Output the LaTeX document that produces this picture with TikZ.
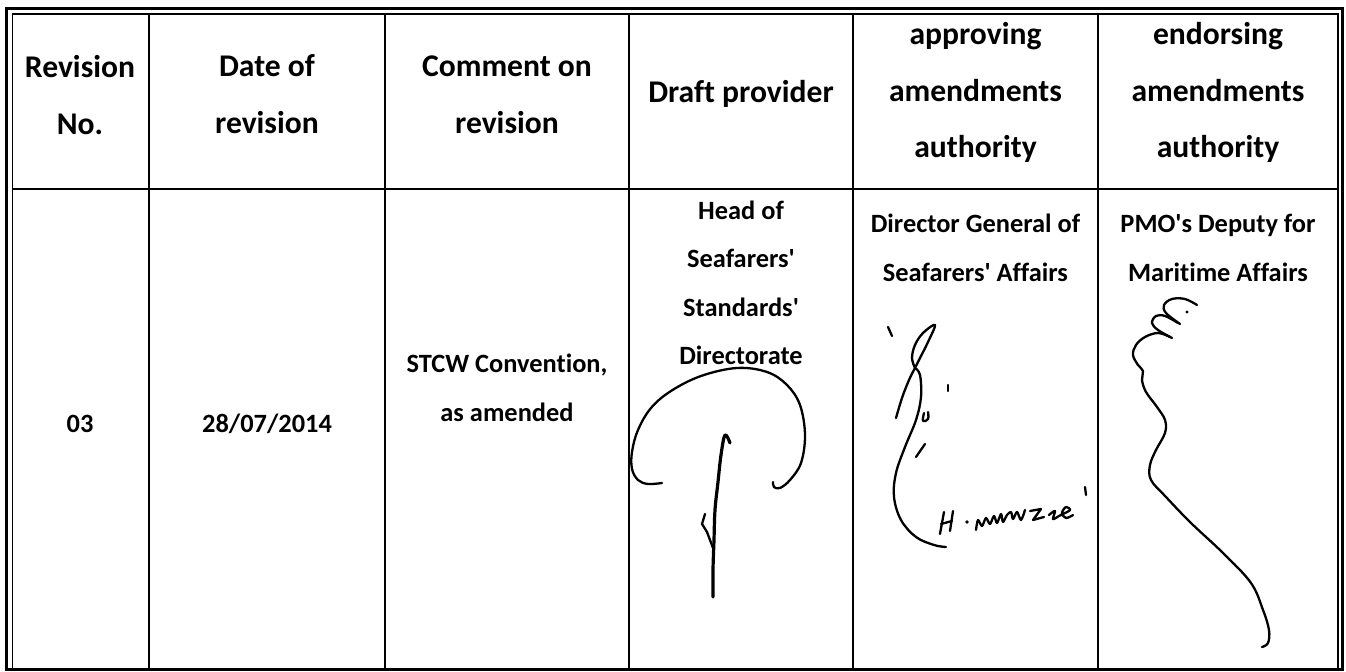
\documentclass[tikz,border=0pt]{standalone}
\usepackage{fontspec}
\setmainfont{Carlito}[Ligatures=NoCommon]
\newcommand\sq{\textquotesingle}
\tikzset{
  hd/.style={font=\bfseries\fontsize{15.8pt}{18pt}\selectfont, anchor=base, inner sep=0pt},
  bd/.style={font=\bfseries\fontsize{13.2pt}{15pt}\selectfont, anchor=base, inner sep=0pt},
  outerline/.style={line width=1.5pt},
  rule/.style={line width=0.75pt},
  sig/.style={line width=1.15pt, line cap=round, line join=round},
  sigthick/.style={line width=1.6pt, line cap=round, line join=round},
}
\begin{document}
\begin{tikzpicture}[x=0.5pt,y=-0.5pt]
\useasboundingbox (0,0) rectangle (1346,672);
\fill[white] (0,0) rectangle (1346,672);
% frame
\draw[outerline] (6.5,670) -- (6.5,9) -- (1342,9) -- (1342,670);
\draw[rule] (12.5,669) -- (12.5,14) -- (1338,14) -- (1338,669);
\draw[line width=1.2pt] (5,669.5) -- (1343.5,669.5);
% header rule
\draw[rule] (12.5,189) -- (1338,189);
% column rules
\foreach \cx in {149,385,629,853,1098}
  \draw[rule] (\cx,14) -- (\cx,669);
% header texts
\node[hd] (h1a) at (80,78) {Revision};
\node[hd] (h1b) at (80,135) {No.};
\node[hd] (h2a) at (267,77) {Date of};
\node[hd] (h2b) at (267,134) {revision};
\node[hd] (h3a) at (507,77) {Comment on};
\node[hd] (h3b) at (507,134) {revision};
\node[hd] (h4a) at (741,103) {Draft provider};
\node[hd] (h5a) at (975.5,45) {approving};
\node[hd] (h5b) at (975.5,102) {amendments};
\node[hd] (h5c) at (975.5,158) {authority};
\node[hd] (h6a) at (1218,45) {endorsing};
\node[hd] (h6b) at (1218,102) {amendments};
\node[hd] (h6c) at (1218,158) {authority};
% body texts
\node[bd] (b1) at (80,433) {03};
\node[bd] (b2) at (267,433) {28/07/2014};
\node[bd] (b3a) at (507,373) {STCW Convention,};
\node[bd] (b3b) at (507,422) {as amended};
\node[bd] (b4a) at (741,220) {Head of};
\node[bd] (b4b) at (741,268) {Seafarers\sq};
\node[bd] (b4c) at (741,317) {Standards\sq};
\node[bd] (b4d) at (741,365) {Directorate};
\node[bd] (b5a) at (975.5,233) {Director General of};
\node[bd] (b5b) at (975.5,282) {Seafarers\sq{} Affairs};
\node[bd] (b6a) at (1218,233) {PMO\sq s Deputy for};
\node[bd] (b6b) at (1218,282) {Maritime Affairs};
% signature 1 (draft provider)
\draw[sig] plot[smooth, tension=0.6] coordinates {(662,483) (648,484) (638,480) (632,469) (632,452) (638,430) (651,408) (671,391) (701,376) (737,368) (767,372) (787,385) (800,405) (805,435) (801,463) (790,480) (780,488) (774,487) (773,482)};
\draw[sigthick] plot[smooth, tension=0.6] coordinates {(730,443) (725,435) (721,455) (718,482) (715,510) (714,540) (713,570) (713,597)};
\draw[sig] (713,548) -- (707,532) -- (702,524) -- (705,514);
% signature 2 (approving)
\draw[sig] (888,327) -- (892,336);
\draw[sig] plot[smooth, tension=0.6] coordinates {(915,368) (912,358) (915,345) (923,333) (935,325) (928,342) (920,358) (915,368)};
\draw[sig] plot[smooth, tension=0.6] coordinates {(915,368) (909,380) (902,398) (896,418)};
\draw[sig] plot[smooth, tension=0.6] coordinates {(915,368) (920,375) (921,397) (916,420) (905,447) (896,473) (894,497) (901,520) (916,537) (934,545) (946,547)};
\draw[sig] (948,385) -- (948,391);
\draw[sig] plot[smooth, tension=0.7] coordinates {(924,413) (923,421) (928,419) (928,412)};
\draw[sig] (916,457) -- (925,444);
\draw[sig] (1085,487) -- (1086,495);
% H.mirzaei
\draw[sig] (944,512) -- (940,534);
\draw[sig] (953,511) -- (950,531);
\draw[sig] (941,524) -- (952,521);
\fill (967,522) circle[radius=1.8];
\draw[sig] plot[smooth, tension=0.5] coordinates {(976,530) (978,520) (982,526) (986,518) (990,524) (994,516) (997,523) (1001,514) (1003,522) (1007,515) (1011,512) (1013,519) (1017,512) (1021,520) (1025,510)};
\draw[sig] (1030,511) -- (1041,509) -- (1033,520) -- (1044,517);
\draw[sig] plot[smooth, tension=0.6] coordinates {(1049,515) (1055,511) (1053,519) (1059,516) (1063,514) (1070,510) (1066,507) (1062,513) (1066,518) (1073,515)};
% signature 3 (endorsing)
\fill (1187,312) circle[radius=1.6];
\draw[sig] plot[smooth, tension=0.6] coordinates {(1197,305) (1185,299) (1172,299) (1164,305) (1166,313) (1180,324)};
\draw[sig] plot[smooth, tension=0.6] coordinates {(1178,323) (1165,316) (1156,316) (1152,323) (1158,330) (1172,338)};
\draw[sig] plot[smooth, tension=0.6] coordinates {(1170,337) (1158,333) (1145,337) (1136,345) (1133,355) (1138,365) (1143,371) (1142,380) (1146,392) (1157,407) (1165,420) (1165,433) (1156,450) (1150,465) (1151,480) (1166,497) (1191,523) (1223,553) (1251,583) (1263,610) (1269,630) (1268,643) (1262,647)};
\end{tikzpicture}
\end{document}
